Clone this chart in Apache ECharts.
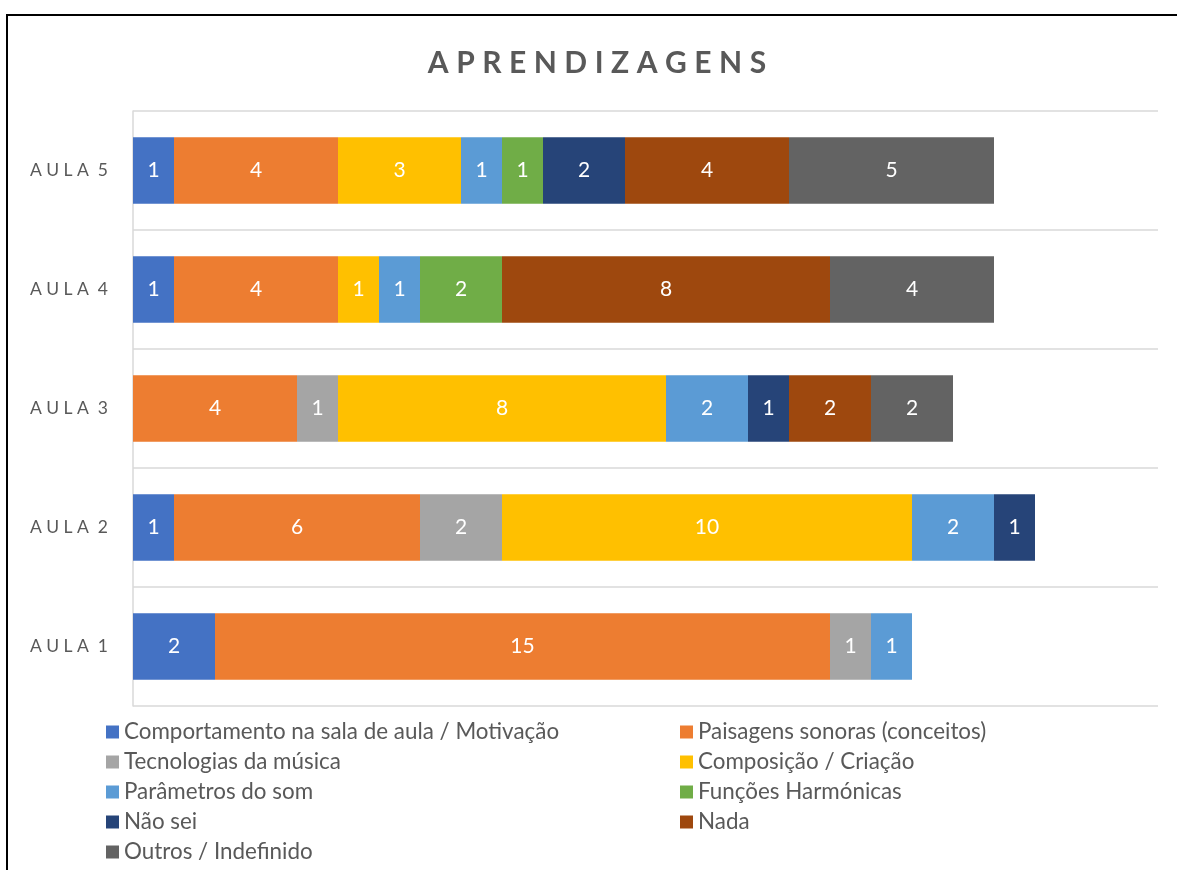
<!DOCTYPE html>
<html>
<head>
<meta charset="utf-8">
<script src="https://cdn.jsdelivr.net/npm/echarts@6/dist/echarts.min.js"></script>
<style>
  html, body { margin: 0; padding: 0; background: #fff; overflow: hidden; }
  .frame { position: absolute; left: 6px; top: 14px; width: 1300px; height: 1000px; border: 2px solid #000; box-sizing: border-box; }
  #chart { position: absolute; left: 0; top: 0; width: 1177px; height: 870px; }
</style>
</head>
<body>
<div class="frame"></div>
<div id="chart"></div>
<script>
// categorias (de baixo para cima)
const categories = ['AULA 1', 'AULA 2', 'AULA 3', 'AULA 4', 'AULA 5']

// valores por série
const comportamento = [2, 1, 0, 1, 1]
const paisagens = [15, 6, 4, 4, 4]
const tecnologias = [1, 2, 1, 0, 0]
const composicao = [0, 10, 8, 1, 3]
const parametros = [1, 2, 2, 1, 1]
const funcoes = [0, 0, 0, 2, 1]
const naoSei = [0, 1, 1, 0, 2]
const nada = [0, 0, 2, 8, 4]
const outros = [0, 0, 2, 4, 5]

const seriesDefs = [
  { name: 'Comportamento na sala de aula / Motivação', data: comportamento, color: '#4472C4' },
  { name: 'Paisagens sonoras (conceitos)', data: paisagens, color: '#ED7D31' },
  { name: 'Tecnologias da música', data: tecnologias, color: '#A5A5A5' },
  { name: 'Composição / Criação', data: composicao, color: '#FFC000' },
  { name: 'Parâmetros do som', data: parametros, color: '#5B9BD5' },
  { name: 'Funções Harmónicas', data: funcoes, color: '#70AD47' },
  { name: 'Não sei', data: naoSei, color: '#264478' },
  { name: 'Nada', data: nada, color: '#9E480E' },
  { name: 'Outros / Indefinido', data: outros, color: '#636363' }
]

const title = 'APRENDIZAGENS'

const chart = echarts.init(document.getElementById('chart'))

const legendText = { color: '#595959', fontSize: 22.4, fontFamily: 'Lato', lineHeight: 22 }
const legendBase = {
  orient: 'vertical',
  top: 716,
  height: 160,
  itemWidth: 13,
  itemHeight: 13,
  itemGap: 8,
  icon: 'rect',
  textStyle: legendText
}

chart.setOption({
  animation: false,
  textStyle: { fontFamily: 'Lato' },
  title: {
    text: title.split('').join('\u2005'),
    left: 592,
    textAlign: 'center',
    top: 43,
    textStyle: { color: '#595959', fontSize: 30, fontWeight: 'bold', fontFamily: 'Lato' }
  },
  legend: [
    Object.assign({}, legendBase, {
      left: 101,
      data: [seriesDefs[0].name, seriesDefs[2].name, seriesDefs[4].name, seriesDefs[6].name, seriesDefs[8].name]
    }),
    Object.assign({}, legendBase, {
      left: 675,
      data: [seriesDefs[1].name, seriesDefs[3].name, seriesDefs[5].name, seriesDefs[7].name]
    })
  ],
  grid: { left: 133, right: 19, top: 111, bottom: 164, containLabel: false },
  xAxis: {
    type: 'value',
    min: 0,
    max: 25,
    axisLabel: { show: false },
    axisLine: { show: false },
    axisTick: { show: false },
    splitLine: { show: false }
  },
  yAxis: {
    type: 'category',
    data: categories,
    axisLine: { show: true, lineStyle: { color: '#d9d9d9', width: 1.5 } },
    axisTick: { show: false },
    splitLine: { show: true, lineStyle: { color: '#d9d9d9', width: 1.5 } },
    axisLabel: {
      color: '#595959',
      fontSize: 17.5,
      fontFamily: 'Lato',
      margin: 25,
      formatter: v => v.split(' ').map(w => w.split('').join(' ')).join('  ')
    }
  },
  series: seriesDefs.map(s => ({
    name: s.name,
    type: 'bar',
    stack: 'total',
    barWidth: '56%',
    data: s.data,
    itemStyle: { color: s.color },
    label: {
      show: true,
      position: 'inside',
      color: '#fff',
      fontSize: 21,
      fontFamily: 'Lato',
      formatter: p => (p.value ? p.value : '')
    }
  }))
})
</script>
</body>
</html>
